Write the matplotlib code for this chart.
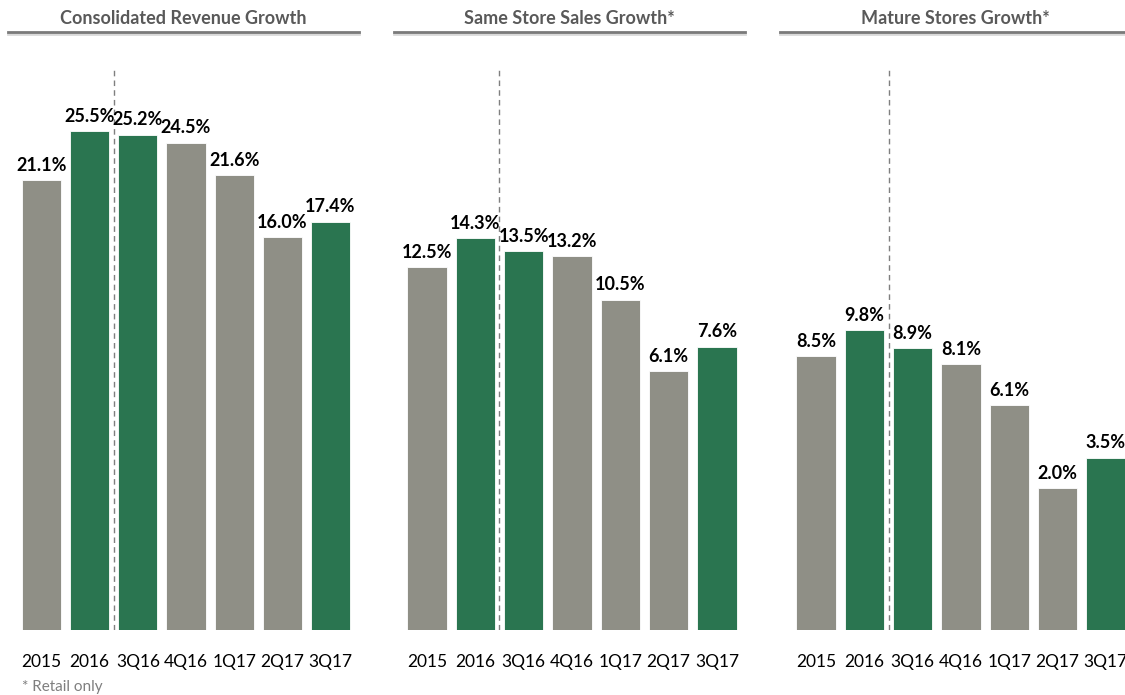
import matplotlib

matplotlib.use("Agg")
import matplotlib.pyplot as plt
import matplotlib.patheffects as pe

plt.rcParams["font.family"] = ["Lato", "DejaVu Sans"]

# data
periods = ["2015", "2016", "3Q16", "4Q16", "1Q17", "2Q17", "3Q17"]
titles = ["Consolidated Revenue Growth", "Same Store Sales Growth*", "Mature Stores Growth*"]
revenue_growth = [21.1, 25.5, 25.2, 24.5, 21.6, 16.0, 17.4]
same_store_growth = [12.5, 14.3, 13.5, 13.2, 10.5, 6.1, 7.6]
mature_store_growth = [8.5, 9.8, 8.9, 8.1, 6.1, 2.0, 3.5]
highlight = [False, True, True, False, False, False, True]

GRAY = "#8F8F86"
GREEN = "#2A7550"

W, H = 1125, 695

# per-panel layout in pixels: (axes left, axes right), title rule (x0, x1), ylim
PANELS = [
    (revenue_growth, (17.4, 354.6), (8, 359), (-19.2, 31.9)),
    (same_store_growth, (402.8, 741.2), (394, 745), (-9.9, 25.3)),
    (mature_store_growth, (791.9, 1130.0), (780, 1130), (-5.0, 23.1)),
]
AX_TOP, AX_BOTTOM = 60, 630

fig = plt.figure(figsize=(W / 100, H / 100), dpi=100)

for (values, (xl, xr), (tl, tr), (ymin, ymax)), title in zip(PANELS, titles):
    ax = fig.add_axes([xl / W, 1 - AX_BOTTOM / H, (xr - xl) / W, (AX_BOTTOM - AX_TOP) / H])
    ax.set_xlim(-0.5, len(periods) - 0.5)
    ax.set_ylim(ymin, ymax)
    colors = [GREEN if h else GRAY for h in highlight]
    ax.bar(range(len(values)), [v - ymin for v in values], 0.81, bottom=ymin,
           color=colors, edgecolor="white", linewidth=0.6)
    for i, v in enumerate(values):
        ax.annotate(f"{v:.1f}%", (i, v), xytext=(0, 4.5), textcoords="offset points",
                    ha="center", va="bottom", fontsize=13, fontweight="bold",
                    color="black", annotation_clip=False)
    ax.axvline(1.5, ymin=0, ymax=(AX_BOTTOM - 68) / (AX_BOTTOM - AX_TOP),
               color="#7F7F7F", linestyle=(0, (4, 3)), linewidth=1.0)
    ax.set_xticks(range(len(periods)))
    ax.set_xticklabels(periods, fontsize=12.5, color="black")
    ax.tick_params(axis="x", length=0, pad=17)
    ax.set_yticks([])
    for s in ax.spines.values():
        s.set_visible(False)

    # title with rule underneath
    fig.add_artist(plt.Line2D([tl / W, tr / W], [1 - 32 / H, 1 - 32 / H],
                              color="#7A7A7A", linewidth=2.0,
                              path_effects=[pe.SimpleLineShadow(offset=(0, -1.5), alpha=0.15),
                                            pe.Normal()]))
    fig.text((tl + tr) / 2 / W, 1 - 18 / H, title, ha="center", va="center",
             fontsize=13, fontweight="bold", color="#595959")

fig.text(22 / W, 1 - 687 / H, "* Retail only", ha="left", va="center",
         fontsize=11, color="#7F7F7F")

fig.savefig("out.png", dpi=100)
